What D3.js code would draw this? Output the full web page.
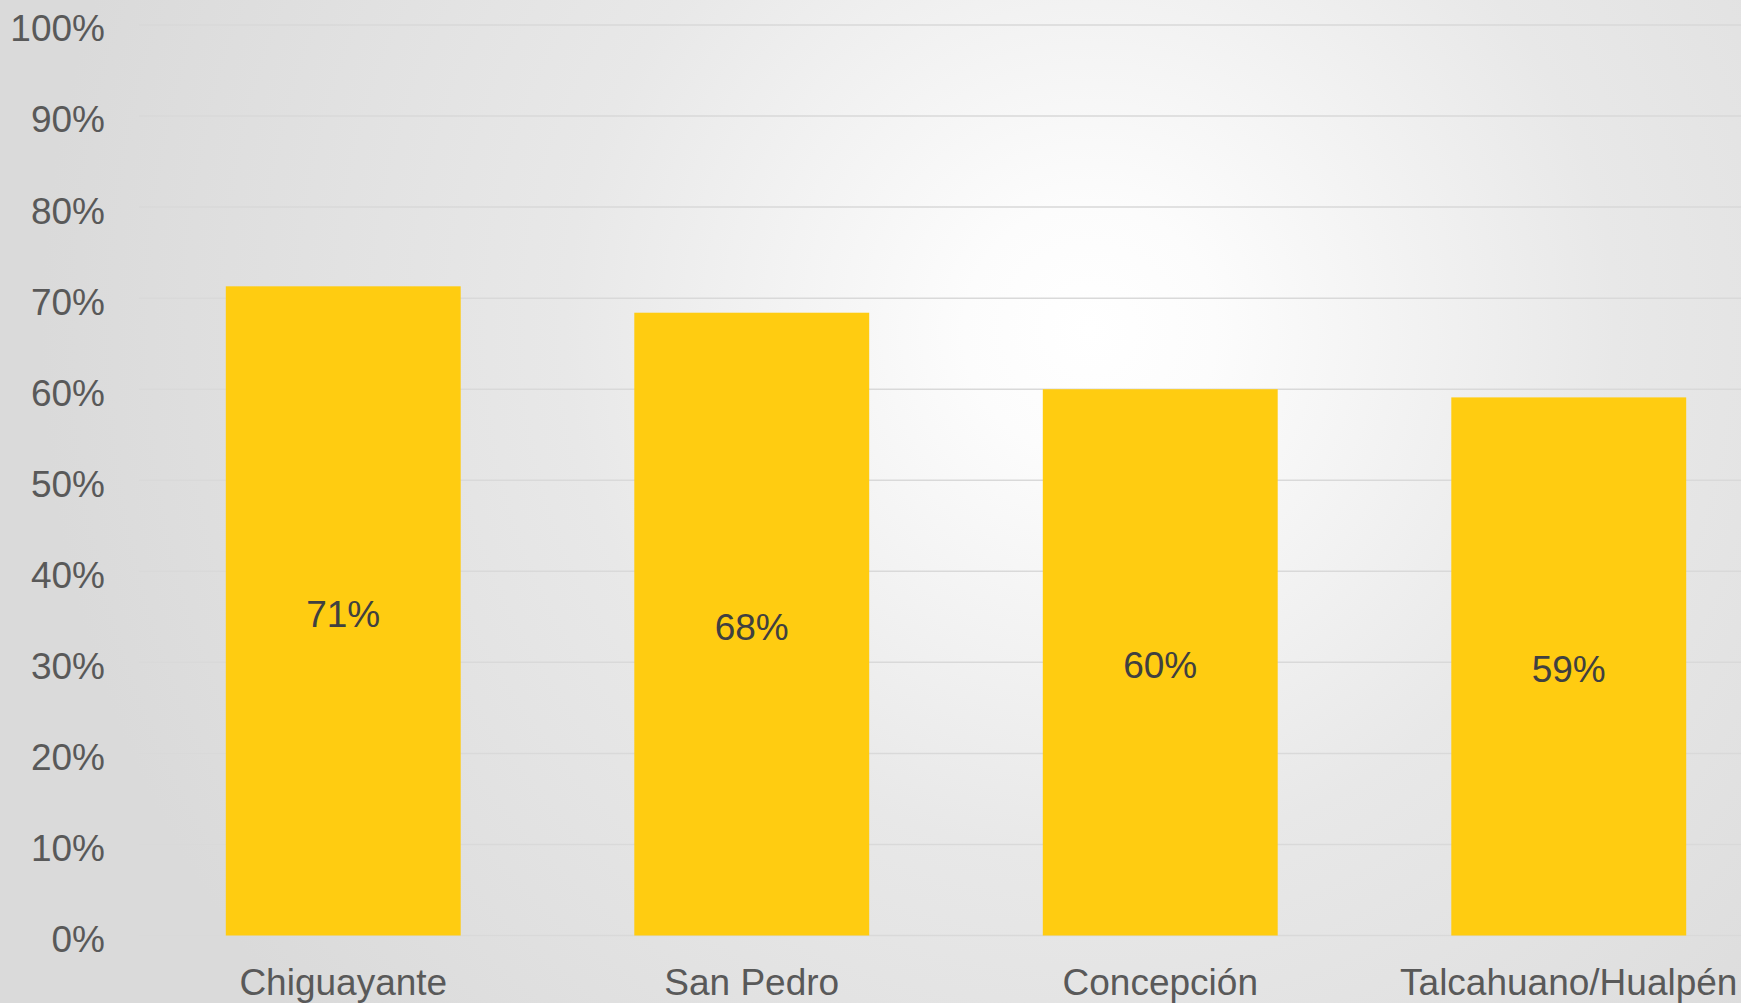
<!DOCTYPE html>
<html>
<head>
<meta charset="utf-8">
<script src="https://cdn.jsdelivr.net/npm/d3@7"></script>
<style>
  html, body { margin: 0; padding: 0; overflow: hidden; }
  svg { display: block; font-family: "Liberation Sans", Arial, sans-serif; }
</style>
</head>
<body>
<div class="chart"></div>
<script>
const categories = ["Chiguayante", "San Pedro", "Concepción", "Talcahuano/Hualpén"];
const values = [0.713, 0.684, 0.6, 0.591];
const yTicks = [0, 0.1, 0.2, 0.3, 0.4, 0.5, 0.6, 0.7, 0.8, 0.9, 1];

const W = 1741;
const H = 1003;
const margin = { top: 25, right: -32, bottom: 67.5, left: 139 };
const width = W - margin.left - margin.right;
const height = H - margin.top - margin.bottom;

const root = d3
  .select(".chart")
  .append("svg")
  .attr("width", W)
  .attr("height", H);

// background: light radial glow like the slide
const grad = root
  .append("defs")
  .append("radialGradient")
  .attr("id", "bg")
  .attr("gradientUnits", "userSpaceOnUse")
  .attr("cx", 1090)
  .attr("cy", 330)
  .attr("r", 1050);
grad.append("stop").attr("offset", 0).attr("stop-color", "#ffffff");
grad.append("stop").attr("offset", 0.12).attr("stop-color", "#fcfcfc");
grad.append("stop").attr("offset", 0.5).attr("stop-color", "#e8e8e8");
grad.append("stop").attr("offset", 1).attr("stop-color", "#dadada");

root
  .append("rect")
  .attr("width", W)
  .attr("height", H)
  .attr("fill", "url(#bg)");

const svg = root
  .append("g")
  .attr("transform", `translate(${margin.left},${margin.top})`);

const x = d3
  .scaleBand()
  .domain(categories)
  .range([0, width])
  .paddingInner(0.425)
  .paddingOuter(0.2125);

const y = d3.scaleLinear().domain([0, 1]).range([height, 0]);

// grid lines
svg
  .append("g")
  .attr("class", "grid")
  .selectAll("line")
  .data(yTicks)
  .join("line")
  .attr("x1", 0)
  .attr("x2", width)
  .attr("y1", (d) => y(d))
  .attr("y2", (d) => y(d))
  .attr("stroke", "#d9d9d9")
  .attr("stroke-width", 1.5);

// y axis labels
const yAxis = d3
  .axisLeft(y)
  .tickValues(yTicks)
  .tickFormat(d3.format(".0%"))
  .tickSize(0)
  .tickPadding(34);

svg
  .append("g")
  .attr("class", "axis y-axis")
  .call(yAxis)
  .call((g) => g.select(".domain").remove())
  .selectAll("text")
  .attr("font-family", "'Liberation Sans', Arial, sans-serif")
  .attr("font-size", "37px")
  .attr("fill", "#595959")
  .attr("dy", "0.43em");

// x axis labels
const xAxis = d3.axisBottom(x).tickSize(0).tickPadding(33);

svg
  .append("g")
  .attr("class", "axis x-axis")
  .attr("transform", `translate(0, ${height})`)
  .call(xAxis)
  .call((g) => g.select(".domain").remove())
  .selectAll("text")
  .attr("font-family", "'Liberation Sans', Arial, sans-serif")
  .attr("font-size", "37px")
  .attr("fill", "#595959");

// bars
const data = categories.map((c, i) => ({ name: c, value: values[i] }));

svg
  .append("g")
  .selectAll("rect")
  .data(data)
  .join("rect")
  .attr("x", (d) => x(d.name))
  .attr("y", (d) => y(d.value))
  .attr("width", x.bandwidth())
  .attr("height", (d) => height - y(d.value))
  .attr("fill", "#ffcc11");

// value labels in the middle of each bar
svg
  .append("g")
  .selectAll("text")
  .data(data)
  .join("text")
  .attr("x", (d) => x(d.name) + x.bandwidth() / 2)
  .attr("y", (d) => (y(d.value) + height) / 2)
  .attr("dy", "0.43em")
  .attr("text-anchor", "middle")
  .attr("font-size", "37px")
  .attr("fill", "#404040")
  .text((d) => d3.format(".0%")(d.value));
</script>
</body>
</html>
